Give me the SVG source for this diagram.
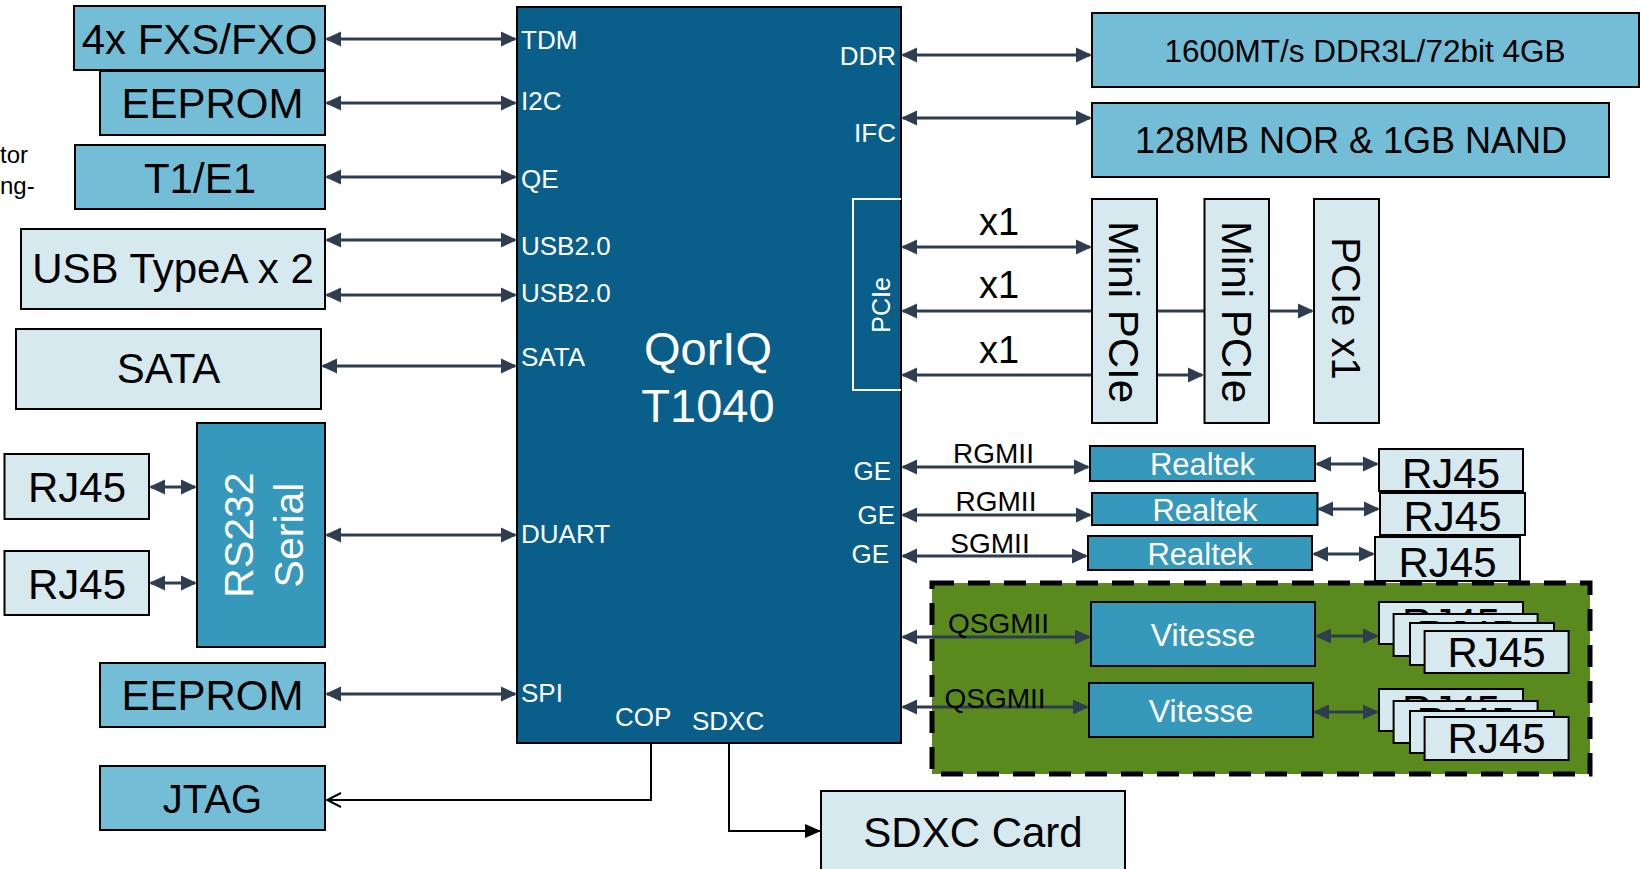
<svg xmlns="http://www.w3.org/2000/svg" width="1641" height="869" viewBox="0 0 1641 869">
<defs>
<style>
.b1{fill:#73BDD6;stroke:#000;stroke-width:2}
.b2{fill:#D6E9EE;stroke:#000;stroke-width:2}
.b3{fill:#3698BA;stroke:#000;stroke-width:2}
text{font-family:"Liberation Sans",Arial,sans-serif}
.k{fill:#000}
.w{fill:#fff}
.m{text-anchor:middle}
.f42{font-size:42px}
.f26{font-size:26px}
.f28{font-size:28px}
.c{stroke:#2E3D50;stroke-width:3;fill:none;marker-start:url(#ah);marker-end:url(#ah)}
.l{stroke:#000;stroke-width:2;fill:none}
</style>
<marker id="ah" viewBox="0 0 16 16" refX="14" refY="8" markerWidth="16" markerHeight="16" markerUnits="userSpaceOnUse" orient="auto-start-reverse"><path d="M0,0.5 L16,8 L0,15.5 z" fill="#2E3D50"/></marker>
<marker id="open" viewBox="0 0 18 18" refX="16" refY="9" markerWidth="18" markerHeight="18" markerUnits="userSpaceOnUse" orient="auto"><path d="M2,2 L16,9 L2,16" fill="none" stroke="#000" stroke-width="2"/></marker>
<marker id="fill" viewBox="0 0 16 16" refX="15" refY="8" markerWidth="16" markerHeight="16" markerUnits="userSpaceOnUse" orient="auto"><path d="M0,1 L16,8 L0,15 z" fill="#000"/></marker>
</defs>
<rect width="1641" height="869" fill="#fff"/>

<text x="0" y="163" style="font-size:24px" class="k">tor</text>
<text x="0" y="194" style="font-size:24px" class="k">ng-</text>

<g id="ethernet-switch-area">
<rect x="932" y="583" width="658" height="191" fill="#5A8A1E" stroke="#000" stroke-width="5" stroke-dasharray="22 14"/>
</g>

<g id="connectors">
<line class="c" x1="327" y1="39" x2="515" y2="39"/>
<line class="c" x1="327" y1="103" x2="515" y2="103"/>
<line class="c" x1="327" y1="177" x2="515" y2="177"/>
<line class="c" x1="327" y1="240" x2="515" y2="240"/>
<line class="c" x1="327" y1="295" x2="515" y2="295"/>
<line class="c" x1="323" y1="366" x2="515" y2="366"/>
<line class="c" x1="327" y1="535" x2="515" y2="535"/>
<line class="c" x1="327" y1="694" x2="515" y2="694"/>
<line class="c" x1="151" y1="487" x2="195" y2="487"/>
<line class="c" x1="151" y1="583" x2="195" y2="583"/>
<line class="c" x1="903" y1="55" x2="1090" y2="55"/>
<line class="c" x1="903" y1="118" x2="1090" y2="118"/>
<line class="c" x1="903" y1="247" x2="1090" y2="247"/>
<line class="c" x1="903" y1="311" x2="1312" y2="311"/>
<line class="c" x1="903" y1="375" x2="1202" y2="375"/>
<line class="c" x1="903" y1="467" x2="1088" y2="467"/>
<line class="c" x1="903" y1="515" x2="1090" y2="515"/>
<line class="c" x1="903" y1="556" x2="1086" y2="556"/>
<line class="c" x1="1317" y1="464" x2="1377" y2="464"/>
<line class="c" x1="1319" y1="509" x2="1378" y2="509"/>
<line class="c" x1="1314" y1="554" x2="1373" y2="554"/>
<line class="c" x1="903" y1="637" x2="1089" y2="637"/>
<line class="c" x1="903" y1="707" x2="1087" y2="707"/>
<line class="c" x1="1317" y1="636" x2="1377" y2="636"/>
<line class="c" x1="1315" y1="712" x2="1377" y2="712"/>
<polyline class="l" points="651,744 651,800 327,800" marker-end="url(#open)"/>
<polyline class="l" points="729,744 729,831 820,831" marker-end="url(#fill)"/>
</g>

<g id="fxs-fxo"><rect class="b1" x="74" y="6" width="251" height="64"/><text class="k m f42" x="199.5" y="54">4x FXS/FXO</text></g>
<g id="eeprom-i2c"><rect class="b1" x="100" y="71" width="225" height="64"/><text class="k m f42" x="212.5" y="118">EEPROM</text></g>
<g id="t1e1"><rect class="b1" x="75" y="145" width="250" height="64"/><text class="k m f42" x="200" y="193">T1/E1</text></g>
<g id="usb"><rect class="b2" x="21" y="229" width="304" height="80"/><text class="k m f42" x="173" y="283">USB TypeA x 2</text></g>
<g id="sata"><rect class="b2" x="16" y="329" width="305" height="80"/><text class="k m f42" x="168.5" y="383">SATA</text></g>
<g id="rj45-l1"><rect class="b2" x="4.5" y="454" width="144.5" height="65"/><text class="k m f42" x="77" y="502">RJ45</text></g>
<g id="rj45-l2"><rect class="b2" x="4.5" y="551" width="144.5" height="64"/><text class="k m f42" x="77" y="599">RJ45</text></g>
<g id="rs232"><rect class="b3" x="197" y="423" width="128" height="224"/>
<text class="w m" style="font-size:41px" transform="translate(253,535) rotate(-90)">RS232</text>
<text class="w m" style="font-size:41px" transform="translate(303,535) rotate(-90)">Serial</text></g>
<g id="eeprom-spi"><rect class="b1" x="100" y="663" width="225" height="64"/><text class="k m f42" x="212.5" y="710">EEPROM</text></g>
<g id="jtag"><rect class="b1" x="100" y="766" width="225" height="64"/><text class="k m" style="font-size:40px" x="212.5" y="813">JTAG</text></g>

<g id="qoriq">
<rect x="517" y="7" width="384" height="736" fill="#0A5F8A" stroke="#000" stroke-width="2"/>
<text class="w m" style="font-size:47px" x="708" y="365">QorIQ</text>
<text class="w m" style="font-size:47px" x="708" y="422">T1040</text>
<text class="w f26" x="521" y="49">TDM</text>
<text class="w f26" x="521" y="110">I2C</text>
<text class="w f26" x="521" y="188">QE</text>
<text class="w f26" x="521" y="255">USB2.0</text>
<text class="w f26" x="521" y="302">USB2.0</text>
<text class="w f26" x="521" y="366">SATA</text>
<text class="w f26" x="521" y="543">DUART</text>
<text class="w f26" x="521" y="702">SPI</text>
<text class="w f26" x="615" y="726">COP</text>
<text class="w f26" x="692" y="730">SDXC</text>
<text class="w f26" x="896" y="65" text-anchor="end">DDR</text>
<text class="w f26" x="896" y="142" text-anchor="end">IFC</text>
<text class="w f26" x="891" y="480" text-anchor="end">GE</text>
<text class="w f26" x="895" y="524" text-anchor="end">GE</text>
<text class="w f26" x="889" y="563" text-anchor="end">GE</text>
<polyline points="901,199 853,199 853,390 901,390" fill="none" stroke="#fff" stroke-width="2"/>
<text class="w m" style="font-size:25px" transform="translate(890,305) rotate(-90)">PCIe</text>
</g>

<g id="ddr"><rect class="b1" x="1092" y="13" width="547" height="74"/><text class="k m" style="font-size:31.5px" x="1365" y="62">1600MT/s DDR3L/72bit 4GB</text></g>
<g id="flash"><rect class="b1" x="1092" y="103" width="517" height="74"/><text class="k m" style="font-size:36px" x="1351" y="153">128MB NOR &amp; 1GB NAND</text></g>
<g id="mini-pcie-1"><rect class="b2" x="1092" y="199" width="65" height="224"/><text class="k m f42" transform="translate(1109,312) rotate(90)">Mini PCIe</text></g>
<g id="mini-pcie-2"><rect class="b2" x="1204.5" y="199" width="64.5" height="224"/><text class="k m f42" transform="translate(1222,312) rotate(90)">Mini PCIe</text></g>
<g id="pcie-x1"><rect class="b2" x="1314" y="199" width="65" height="224"/><text class="k m" style="font-size:40px" transform="translate(1332,308.5) rotate(90)">PCIe x1</text></g>

<g id="link-labels">
<text class="k m" style="font-size:38px" x="999" y="235">x1</text>
<text class="k m" style="font-size:38px" x="999" y="298">x1</text>
<text class="k m" style="font-size:38px" x="999" y="363">x1</text>
<text class="k m f28" x="993.5" y="463">RGMII</text>
<text class="k m f28" x="996" y="511">RGMII</text>
<text class="k m f28" x="990" y="553">SGMII</text>
<text class="k f28" x="948" y="633">QSGMII</text>
<text class="k f28" x="944.5" y="708">QSGMII</text>
</g>

<g id="realtek-1"><rect class="b3" x="1090" y="446" width="225" height="35"/><text class="w m" style="font-size:31px" x="1202.5" y="475">Realtek</text></g>
<g id="realtek-2"><rect class="b3" x="1092" y="493" width="225.5" height="32"/><text class="w m" style="font-size:31px" x="1205" y="521">Realtek</text></g>
<g id="realtek-3"><rect class="b3" x="1088" y="536" width="224" height="34"/><text class="w m" style="font-size:31px" x="1200" y="565">Realtek</text></g>
<g id="rj45-r1"><rect class="b2" x="1379" y="449" width="144" height="42"/><text class="k m f42" x="1451" y="488">RJ45</text></g>
<g id="rj45-r2"><rect class="b2" x="1380" y="493" width="145" height="42"/><text class="k m f42" x="1452.5" y="531">RJ45</text></g>
<g id="rj45-r3"><rect class="b2" x="1375" y="537" width="145" height="44"/><text class="k m f42" x="1447.5" y="577">RJ45</text></g>

<g id="vitesse-1"><rect class="b3" x="1091" y="602" width="224" height="64"/><text class="w m" style="font-size:32px" x="1203" y="646">Vitesse</text></g>
<g id="vitesse-2"><rect class="b3" x="1089" y="683" width="224" height="54"/><text class="w m" style="font-size:32px" x="1201" y="722">Vitesse</text></g>

<g id="rj45-stack-1">
<rect class="b2" x="1379" y="602" width="144" height="42"/><text class="k m f42" x="1451" y="638">RJ45</text>
<rect class="b2" x="1393.6" y="614" width="144" height="42"/><text class="k m f42" x="1465.6" y="650">RJ45</text>
<rect class="b2" x="1410" y="623" width="144" height="42"/><text class="k m f42" x="1482" y="659">RJ45</text>
<rect class="b2" x="1424.6" y="631" width="144" height="42"/><text class="k m f42" x="1496.6" y="667">RJ45</text>
</g>
<g id="rj45-stack-2">
<rect class="b2" x="1379" y="689" width="144" height="42"/><text class="k m f42" x="1451" y="725">RJ45</text>
<rect class="b2" x="1393.6" y="701" width="144" height="42"/><text class="k m f42" x="1465.6" y="737">RJ45</text>
<rect class="b2" x="1410" y="711" width="144" height="42"/><text class="k m f42" x="1482" y="747">RJ45</text>
<rect class="b2" x="1424.6" y="717" width="144" height="43"/><text class="k m f42" x="1496.6" y="753">RJ45</text>
</g>

<g id="sdxc-card"><rect class="b2" x="821" y="791" width="304" height="90"/><text class="k m f42" x="973" y="847">SDXC Card</text></g>
</svg>
